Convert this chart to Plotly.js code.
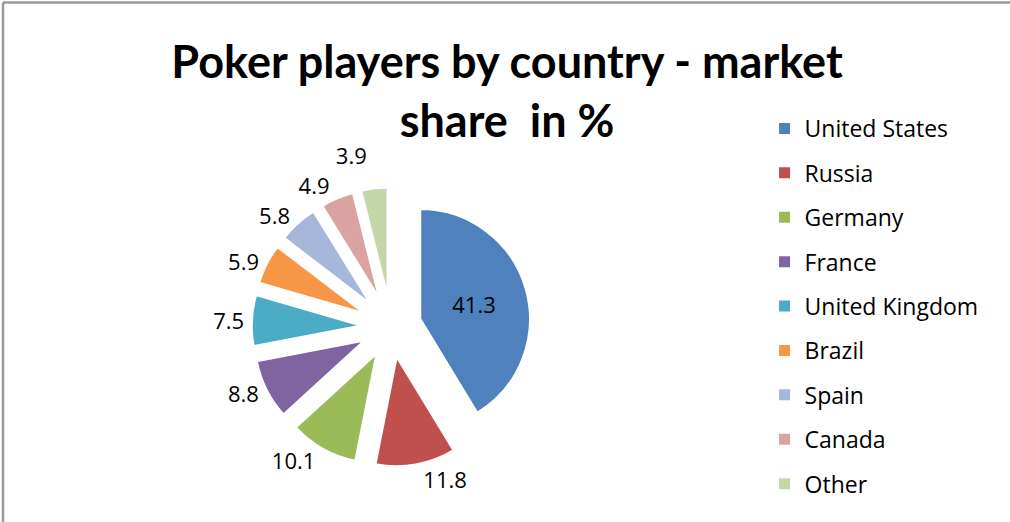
<!DOCTYPE html>
<html>
<head>
<meta charset="utf-8">
<script src="https://cdn.plot.ly/plotly-3.0.1.min.js"></script>
<style>html,body{margin:0;padding:0;background:#fff}#chart{width:1010px;height:522px}#chart path.textline{display:none}</style>
</head>
<body>
<div id="chart"></div>
<script>
const countries = ["United States", "Russia", "Germany", "France", "United Kingdom", "Brazil", "Spain", "Canada", "Other"];
const shares = [41.3, 11.8, 10.1, 8.8, 7.5, 5.9, 5.8, 4.9, 3.9];
const colors = ["#4F81BD", "#C0504D", "#9BBB59", "#8064A2", "#4BACC6", "#F79646", "#A5B8DB", "#DAA3A2", "#C5D7A8"];
const titleText = "Poker players by country - market<br>share  in %";

const pie = {
  type: "pie",
  labels: countries,
  values: shares,
  sort: false,
  direction: "clockwise",
  rotation: 0,
  pull: countries.map(() => 0.27),
  marker: {colors: colors, line: {color: "#ffffff", width: 2.5}},
  textinfo: "value",
  texttemplate: "%{value:.1f}",
  textposition: countries.map((c, i) => i === 0 ? "inside" : "outside"),
  insidetextorientation: "horizontal",
  textfont: {family: "Open Sans, sans-serif", size: 22, color: "#000"},
  showlegend: false,
  hoverinfo: "label+value",
  domain: {x: [0.249, 0.526], y: [0.105, 0.642]}
};

const legendTraces = countries.map((c, i) => ({
  type: "scatter",
  mode: "markers",
  x: [null], y: [null],
  name: c,
  legendgroup: "g" + i,
  marker: {symbol: "square", size: 11, color: colors[i]},
  hoverinfo: "skip"
}));

const layout = {
  width: 1010, height: 522,
  margin: {l: 0, r: 0, t: 0, b: 0},
  paper_bgcolor: "#fff", plot_bgcolor: "#fff",
  title: {
    text: titleText,
    font: {family: "Lato, sans-serif", size: 45, color: "#000", weight: "bold"},
    x: 0.502, xanchor: "center",
    y: 0.85, yanchor: "top"
  },
  xaxis: {visible: false, domain: [0, 0.01]},
  yaxis: {visible: false, domain: [0, 0.01]},
  showlegend: true,
  legend: {
    x: 0.757, xanchor: "left",
    y: 0.795, yanchor: "top",
    traceorder: "grouped",
    tracegroupgap: 11.5,
    font: {family: "Open Sans, sans-serif", size: 23, color: "#000"},
    bgcolor: "rgba(0,0,0,0)"
  },
  shapes: [
    {type: "line", xref: "paper", yref: "paper", x0: 0.003, x1: 1, y0: 0.9952, y1: 0.9952, line: {color: "#9a9a9a", width: 2.5}},
    {type: "line", xref: "paper", yref: "paper", x0: 0.003, x1: 0.003, y0: 0, y1: 0.9952, line: {color: "#9a9a9a", width: 2.5}}
  ]
};

Plotly.newPlot("chart", [pie].concat(legendTraces), layout, {displayModeBar: false, staticPlot: true});
</script>
</body>
</html>
